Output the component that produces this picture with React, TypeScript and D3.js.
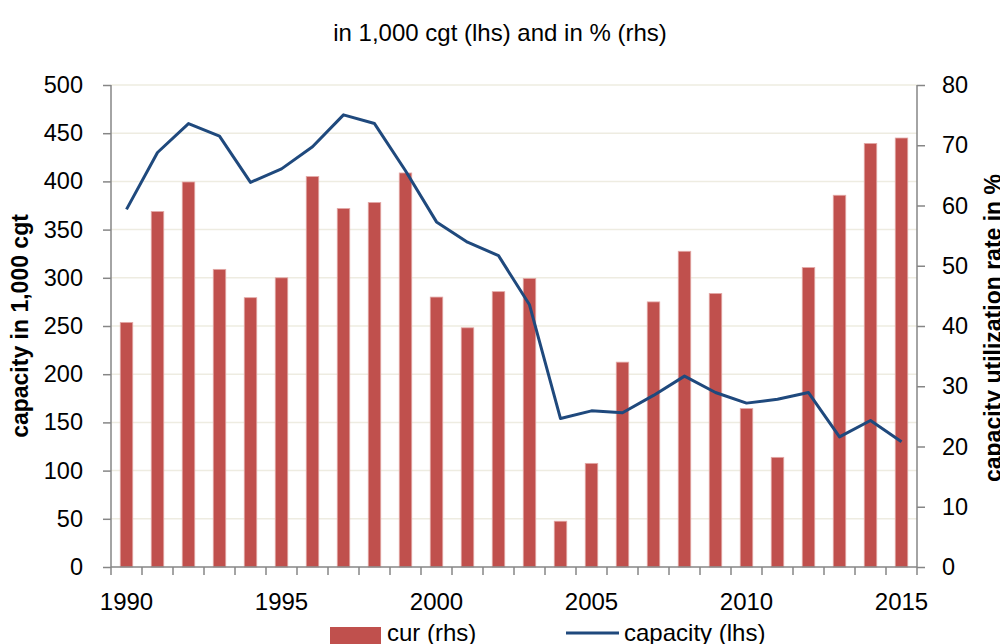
import * as d3 from "d3";
import React, { useRef, useEffect } from "react";

const years = d3.range(1990, 2016).map(String);

// capacity utilization rate, in % (rhs)
const curValues = [
    40.6, 59.0, 63.9, 49.4, 44.7, 48.0, 64.8, 59.5, 60.5, 65.4,
    44.8, 39.7, 45.7, 47.9, 7.6, 17.2, 34.0, 44.0, 52.4, 45.4,
    26.3, 18.2, 49.7, 61.7, 70.3, 71.2,
];

// capacity, in 1,000 cgt (lhs)
const capacityValues = [
    371, 430, 460, 447, 399, 413, 436, 469, 460, 411,
    358, 337, 323, 272, 154, 162, 160, 178, 198, 181,
    170, 174, 181, 135, 152, 130,
];

const leftTicks = [0, 50, 100, 150, 200, 250, 300, 350, 400, 450, 500];
const rightTicks = [0, 10, 20, 30, 40, 50, 60, 70, 80];
const yearLabels = ["1990", "1995", "2000", "2005", "2010", "2015"];

const width = 1000;
const height = 644;
const margin = { top: 85, right: 83, bottom: 77, left: 111 };
const font = "'Liberation Sans', Arial, sans-serif";

function App() {
    const axesRef = useRef(null);

    const innerW = width - margin.left - margin.right;
    const innerH = height - margin.top - margin.bottom;

    const xScale = d3.scaleBand().domain(years).range([margin.left, margin.left + innerW]);
    const yLeft = d3.scaleLinear().domain([0, 500]).range([margin.top + innerH, margin.top]);
    const yRight = d3.scaleLinear().domain([0, 80]).range([margin.top + innerH, margin.top]);

    const barW = 12.5;

    const linePath = d3.line()
        .x((d, i) => xScale(years[i]) + xScale.bandwidth() / 2)
        .y((d) => yLeft(d))(capacityValues);

    useEffect(() => {
        document.body.style.margin = "0";
        const g = d3.select(axesRef.current);
        g.selectAll("*").remove();

        const axisColor = "#868686";

        const left = g.append("g")
            .attr("transform", `translate(${margin.left},0)`)
            .call(d3.axisLeft(yLeft).tickValues(leftTicks).tickSize(8).tickPadding(20));
        const right = g.append("g")
            .attr("transform", `translate(${margin.left + innerW},0)`)
            .call(d3.axisRight(yRight).tickValues(rightTicks).tickSize(8).tickPadding(17));

        const xTicks = years.map((y) => xScale(y)).concat([margin.left + innerW]);
        const bottom = g.append("g")
            .attr("transform", `translate(0,${margin.top + innerH})`);
        bottom.append("line")
            .attr("x1", margin.left).attr("x2", margin.left + innerW)
            .attr("stroke", axisColor).attr("stroke-width", 1.5);
        bottom.selectAll("line.tick")
            .data(xTicks)
            .join("line")
            .attr("class", "tick")
            .attr("x1", (d) => d).attr("x2", (d) => d)
            .attr("y1", 0).attr("y2", 8)
            .attr("stroke", axisColor).attr("stroke-width", 1.5);
        bottom.selectAll("text")
            .data(yearLabels)
            .join("text")
            .attr("x", (d) => xScale(d) + xScale.bandwidth() / 2)
            .attr("y", 43)
            .attr("text-anchor", "middle")
            .style("font-family", font)
            .style("font-size", "24px")
            .attr("fill", "#000")
            .text((d) => d);

        [left, right].forEach((a) => {
            a.select(".domain").attr("stroke", axisColor).attr("stroke-width", 1.5);
            a.selectAll(".tick line").attr("stroke", axisColor).attr("stroke-width", 1.5);
            a.selectAll(".tick text")
                .style("font-family", font)
                .style("font-size", "23.5px")
                .attr("fill", "#000");
        });
        left.select(".domain").attr("d", `M0,${margin.top}V${margin.top + innerH}`);
        right.select(".domain").attr("d", `M0,${margin.top}V${margin.top + innerH}`);
    }, []);

    return (
        <div style={{ position: "absolute", left: 0, top: 0 }}>
            <svg width={width} height={height} style={{ display: "block", background: "#fff" }}>
                {leftTicks.slice(1).map((t) => (
                    <line
                        key={t}
                        x1={margin.left}
                        x2={margin.left + innerW}
                        y1={yLeft(t)}
                        y2={yLeft(t)}
                        stroke="#EEECE1"
                        strokeWidth={1.5}
                    />
                ))}
                {curValues.map((v, i) => (
                    <rect
                        key={years[i]}
                        x={xScale(years[i]) + xScale.bandwidth() / 2 - barW / 2}
                        y={yRight(v)}
                        width={barW}
                        height={yRight(0) - yRight(v)}
                        fill="#C0504D"
                        stroke="#E3A9A7"
                        strokeWidth={0.8}
                    />
                ))}
                <path
                    d={linePath}
                    stroke="#1F497D"
                    fill="none"
                    strokeWidth={3}
                    strokeLinejoin="round"
                />
                <g ref={axesRef} />
                <text
                    x={500}
                    y={41}
                    textAnchor="middle"
                    style={{ fontFamily: font, fontSize: 24 }}
                >
                    in 1,000 cgt (lhs) and in % (rhs)
                </text>
                <text
                    transform="translate(28,326) rotate(-90)"
                    textAnchor="middle"
                    style={{ fontFamily: font, fontSize: 23, fontWeight: "bold" }}
                >
                    capacity in 1,000 cgt
                </text>
                <text
                    transform="translate(1001,328) rotate(-90)"
                    textAnchor="middle"
                    style={{ fontFamily: font, fontSize: 23, fontWeight: "bold" }}
                >
                    capacity utilization rate in %
                </text>
                <g>
                    <rect x={330} y={627} width={51} height={17} fill="#C0504D" />
                    <text x={387} y={641} style={{ fontFamily: font, fontSize: 24 }}>cur (rhs)</text>
                    <line x1={566} x2={619} y1={633} y2={633} stroke="#1F497D" strokeWidth={3} />
                    <text x={624} y={641} style={{ fontFamily: font, fontSize: 24 }}>capacity (lhs)</text>
                </g>
            </svg>
        </div>
    );
}

export default App;
